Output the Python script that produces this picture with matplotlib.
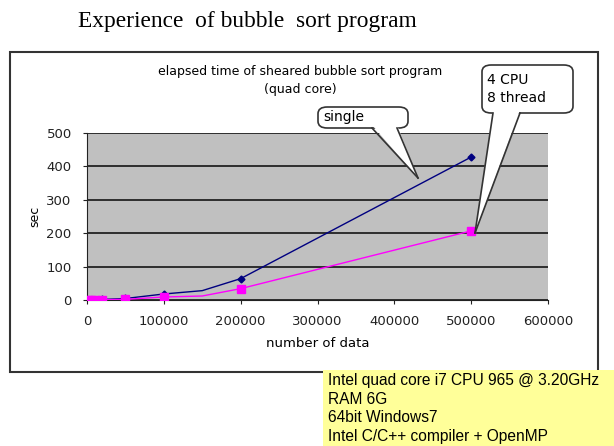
import numpy as np
import matplotlib
matplotlib.use('Agg')
import matplotlib.pyplot as plt
from matplotlib.patches import Rectangle, FancyBboxPatch, Polygon
from matplotlib.lines import Line2D

# data
n_data = [1000, 5000, 10000, 20000, 50000, 100000, 150000, 200000, 500000]
single = [0.0, 0.1, 0.4, 1.7, 4.5, 18, 28, 64, 428]
multi = [0.0, 0.1, 0.3, 1.0, 2.0, 9, 12, 34, 207]
xticks = [0, 100000, 200000, 300000, 400000, 500000, 600000]
yticks = [0, 100, 200, 300, 400, 500]
spec_lines = ["Intel quad core i7 CPU 965 @ 3.20GHz", "RAM 6G",
              "64bit Windows7", "Intel C/C++ compiler + OpenMP"]

W, H = 614, 446
def fx(x):
    return x / W
def fy(y):
    return 1 - y / H

fig = plt.figure(figsize=(W / 100, H / 100), dpi=100)
fig.patch.set_facecolor('white')

# outer chart frame
fig.patches.append(Rectangle((fx(10), fy(372)), fx(598) - fx(10), fy(52) - fy(372),
                             transform=fig.transFigure, fill=False,
                             edgecolor='#333333', lw=1.5, zorder=0))

ax = fig.add_axes([fx(87), fy(300), fx(548) - fx(87), fy(133) - fy(300)])
ax.set_facecolor('#C0C0C0')
marks = [0, 1, 2, 3, 4, 5, 7, 8]
ax.plot(n_data, single, color='#000080', lw=1, marker='D', ms=3.5,
        markevery=marks, zorder=3)
ax.plot(n_data, multi, color='#FF00FF', lw=1, marker='s', ms=5.5,
        markevery=marks, zorder=3)
ax.set_xlim(0, 600000)
ax.set_ylim(0, 500)
ax.set_xticks(xticks)
ax.set_yticks(yticks)
ax.set_xticklabels([str(v) for v in xticks])
ax.yaxis.grid(True, color='#222222', lw=1.3)
ax.set_axisbelow(True)
for s in ['top', 'right']:
    ax.spines[s].set_visible(False)
for s in ['left', 'bottom']:
    ax.spines[s].set_color('#222222')
ax.tick_params(labelsize=9.5, length=3, colors='#222222', pad=8)
ax.set_ylabel('sec', fontsize=9, labelpad=4)
ax.set_xlabel('number of data', fontsize=9.5, labelpad=6)

# titles
fig.text(fx(247), fy(22), 'Experience  of bubble  sort program', family='Liberation Serif',
         fontsize=16.8, ha='center', va='center')
fig.text(fx(300), fy(71), 'elapsed time of sheared bubble sort program',
         fontsize=9, ha='center', va='center')
fig.text(fx(300), fy(90), '(quad core)', fontsize=9, ha='center', va='center')

def callout(x0, y0, x1, y1, base, tip, label):
    box = FancyBboxPatch((fx(x0), fy(y1)), fx(x1) - fx(x0), fy(y0) - fy(y1),
                         boxstyle='round,pad=0,rounding_size=0.015',
                         transform=fig.transFigure, facecolor='white',
                         edgecolor='#333333', lw=1.2, zorder=5)
    fig.patches.append(box)
    pts = [(fx(base[0]), fy(y1 - 3)), (fx(base[1]), fy(y1 - 3)), (fx(tip[0]), fy(tip[1]))]
    fig.patches.append(Polygon(pts, closed=True, transform=fig.transFigure,
                               facecolor='white', edgecolor='none', zorder=6))
    for bx in base:
        fig.lines.append(Line2D([fx(bx), fx(tip[0])], [fy(y1), fy(tip[1])],
                                transform=fig.transFigure, color='#333333',
                                lw=1.2, zorder=7))
    fig.text(fx(x0) + 0.008, (fy(y0) + fy(y1)) / 2, label, fontsize=10,
             ha='left', va='center', zorder=8, linespacing=1.4)

callout(318, 107, 408, 128, (372, 397), (418, 178), 'single')
callout(482, 65, 573, 113, (493, 520), (475, 233), '4 CPU\n8 thread')

# spec box
fig.patches.append(Rectangle((fx(323), 0), 1 - fx(323), fy(370),
                             transform=fig.transFigure, facecolor='#FFFF99',
                             edgecolor='none', zorder=9))
for i, line in enumerate(spec_lines):
    fig.text(fx(328), fy(381 + i * 18.5), line, family='Liberation Sans',
             fontsize=11.2, ha='left', va='center', zorder=10)

fig.savefig('out.png', dpi=100)
